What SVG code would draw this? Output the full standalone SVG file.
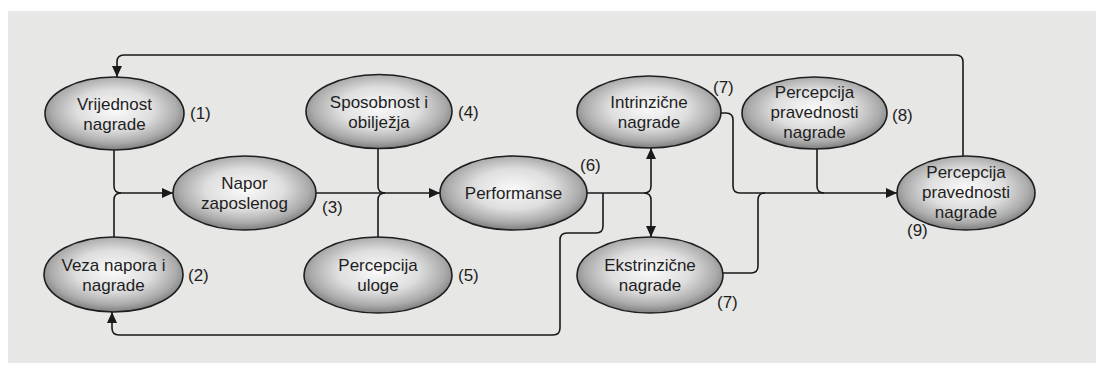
<svg xmlns="http://www.w3.org/2000/svg" width="1096" height="367" viewBox="0 0 1096 367">
<defs>
<radialGradient id="g" cx="50%" cy="45%" r="55%">
<stop offset="0" stop-color="#fafafa"/>
<stop offset="0.5" stop-color="#dedede"/>
<stop offset="0.82" stop-color="#ababab"/>
<stop offset="1" stop-color="#7e7e7e"/>
</radialGradient>
<marker id="a" markerUnits="userSpaceOnUse" markerWidth="12" markerHeight="10" refX="11" refY="5" orient="auto">
<path d="M0,0 L11,5 L0,10 Z" fill="#1a1a1a"/>
</marker>
</defs>
<style>
.n ellipse{fill:url(#g);stroke:#1e1e1e;stroke-width:1.6}
text{font-family:"Liberation Sans",Arial,sans-serif;font-size:17px;fill:#1e1e1e}
.t{text-anchor:middle}
.c path{fill:none;stroke:#1a1a1a;stroke-width:1.6}
</style>
<rect width="1096" height="367" fill="#ffffff"/>
<rect x="8" y="11" width="1088" height="352" fill="#e7e7e5"/>
<g class="c" id="connectors">
<path d="M963,156 V62 Q963,55 956,55 H124 Q117,55 117,62 V77" marker-end="url(#a)"/>
<path d="M114,150 V186 Q114,193 121,193 H173" marker-end="url(#a)"/>
<path d="M114,237 V200 Q114,193 121,193"/>
<path d="M316,193 H440" marker-end="url(#a)"/>
<path d="M378,148 V186 Q378,193 385,193"/>
<path d="M378,237 V200 Q378,193 385,193"/>
<path d="M587,193 H644 Q651,193 651,186 V148" marker-end="url(#a)"/>
<path d="M644,193 Q651,193 651,200 V237" marker-end="url(#a)"/>
<path d="M603,193 V226 Q603,233 596,233 H567 Q560,233 560,240 V328 Q560,335 553,335 H119 Q112,335 112,328 V312" marker-end="url(#a)"/>
<path d="M721,113 H726 Q733,113 733,120 V186 Q733,193 740,193 H897" marker-end="url(#a)"/>
<path d="M723,273 H751 Q758,273 758,266 V200 Q758,193 765,193"/>
<path d="M817,149 V186 Q817,193 824,193"/>
</g>
<g class="n" id="n1"><ellipse cx="114.5" cy="113.5" rx="69.5" ry="36.5"/><text class="t" x="114.5" y="109.5">Vrijednost</text><text class="t" x="114.5" y="129.5">nagrade</text><text x="190" y="119">(1)</text></g>
<g class="n" id="n2"><ellipse cx="113.5" cy="274.5" rx="69.5" ry="37.5"/><text class="t" x="113.5" y="270.5">Veza napora i</text><text class="t" x="113.5" y="290.5">nagrade</text><text x="188" y="281">(2)</text></g>
<g class="n" id="n3"><ellipse cx="244.5" cy="193" rx="71.5" ry="37"/><text class="t" x="244.5" y="189">Napor</text><text class="t" x="244.5" y="209">zaposlenog</text><text x="322" y="213">(3)</text></g>
<g class="n" id="n4"><ellipse cx="379" cy="111.5" rx="73" ry="37"/><text class="t" x="379" y="107.5">Sposobnost i</text><text class="t" x="379" y="127.5">obilježja</text><text x="458" y="118">(4)</text></g>
<g class="n" id="n5"><ellipse cx="378" cy="275" rx="74" ry="38"/><text class="t" x="378" y="271">Percepcija</text><text class="t" x="378" y="291">uloge</text><text x="458" y="281">(5)</text></g>
<g class="n" id="n6"><ellipse cx="513.5" cy="193" rx="73.5" ry="37"/><text class="t" x="513.5" y="199">Performanse</text><text x="580" y="171">(6)</text></g>
<g class="n" id="n7a"><ellipse cx="649" cy="112" rx="72" ry="36"/><text class="t" x="649" y="108">Intrinzične</text><text class="t" x="649" y="128">nagrade</text><text x="713" y="93">(7)</text></g>
<g class="n" id="n7b"><ellipse cx="650" cy="275" rx="73" ry="38"/><text class="t" x="650" y="271">Ekstrinzične</text><text class="t" x="650" y="291">nagrade</text><text x="717" y="308">(7)</text></g>
<g class="n" id="n8"><ellipse cx="814.5" cy="113" rx="72.5" ry="36"/><text class="t" x="814.5" y="98">Percepcija</text><text class="t" x="814.5" y="118">pravednosti</text><text class="t" x="814.5" y="138">nagrade</text><text x="892" y="121">(8)</text></g>
<g class="n" id="n9"><ellipse cx="966" cy="193" rx="69" ry="37"/><text class="t" x="966" y="178">Percepcija</text><text class="t" x="966" y="198">pravednosti</text><text class="t" x="966" y="218">nagrade</text><text x="907" y="236">(9)</text></g>
</svg>
